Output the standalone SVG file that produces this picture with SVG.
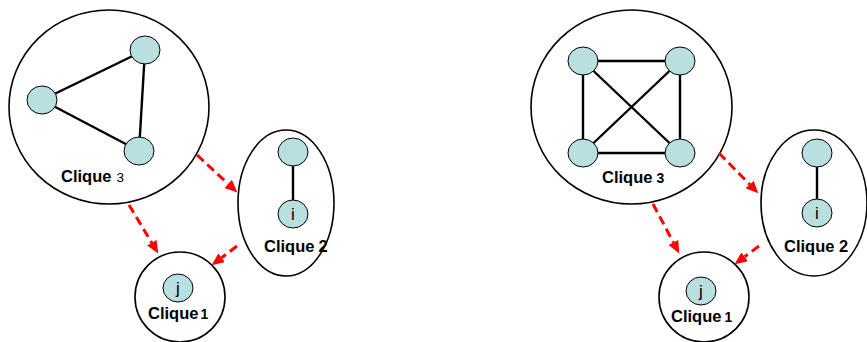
<svg xmlns="http://www.w3.org/2000/svg" width="867" height="342" viewBox="0 0 867 342">
  <defs>
    <marker id="arrowhead" markerUnits="userSpaceOnUse" markerWidth="13" markerHeight="12" refX="0" refY="5.5" orient="auto">
      <path d="M0,0 L12.5,5.5 L0,11 z" fill="#FF0000"/>
    </marker>
    <style>
      .clique { fill: #FFFFFF; stroke: #000000; stroke-width: 1.6; }
      .vertex { fill: #B9DFE0; stroke: #000000; stroke-width: 1; }
      .edge { stroke: #000000; stroke-width: 2.4; fill: none; }
      .dep { stroke: #FF0000; stroke-width: 3; stroke-dasharray: 9 5; fill: none; marker-end: url(#arrowhead); }
      .title { font-family: "Liberation Sans", Arial, sans-serif; font-weight: bold; font-size: 16.5px; fill: #000000; }
      .vlabel { font-family: "Liberation Sans", Arial, sans-serif; font-size: 17px; fill: #000000; text-anchor: middle; }
    </style>
  </defs>

  <!-- Left: 3-vertex clique -->
  <g id="left-clique3">
    <ellipse class="clique" cx="109" cy="107" rx="100" ry="97"/>
    <line class="edge" x1="145" y1="50" x2="42" y2="100"/>
    <line class="edge" x1="145" y1="50" x2="139" y2="151"/>
    <line class="edge" x1="42" y1="100" x2="139" y2="151"/>
    <ellipse class="vertex" cx="145" cy="50" rx="15" ry="14"/>
    <ellipse class="vertex" cx="42" cy="100" rx="15" ry="14"/>
    <ellipse class="vertex" cx="139" cy="151" rx="15" ry="14"/>
    <text class="title" x="61" y="182">Clique<tspan dx="5" font-size="13.5" font-weight="normal">3</tspan></text>
  </g>

  <g id="left-clique2">
    <ellipse class="clique" cx="286" cy="203" rx="48" ry="73"/>
    <line class="edge" x1="293" y1="152" x2="293" y2="214"/>
    <ellipse class="vertex" cx="293" cy="152" rx="15" ry="14"/>
    <ellipse class="vertex" cx="293" cy="214" rx="15" ry="14"/>
    <text class="vlabel" x="293" y="220">i</text>
    <text class="title" x="264" y="252" font-size="15">Clique<tspan dx="4">2</tspan></text>
  </g>

  <g id="left-clique1">
    <circle class="clique" cx="180" cy="297" r="45"/>
    <ellipse class="vertex" cx="178" cy="288" rx="15" ry="14"/>
    <text class="vlabel" x="178" y="294">j</text>
    <text class="title" x="148" y="319">Clique<tspan dx="2" font-size="14">1</tspan></text>
  </g>

  <!-- Right: 4-vertex clique -->
  <g id="right-clique3">
    <ellipse class="clique" cx="631.5" cy="107" rx="100.5" ry="97"/>
    <line class="edge" x1="583" y1="61" x2="680" y2="61"/>
    <line class="edge" x1="583" y1="153" x2="680" y2="153"/>
    <line class="edge" x1="583" y1="61" x2="583" y2="153"/>
    <line class="edge" x1="680" y1="61" x2="680" y2="153"/>
    <line class="edge" x1="583" y1="61" x2="680" y2="153"/>
    <line class="edge" x1="680" y1="61" x2="583" y2="153"/>
    <ellipse class="vertex" cx="583" cy="61" rx="15" ry="14"/>
    <ellipse class="vertex" cx="680" cy="61" rx="15" ry="14"/>
    <ellipse class="vertex" cx="583" cy="153" rx="15" ry="14"/>
    <ellipse class="vertex" cx="680" cy="153" rx="15" ry="14"/>
    <text class="title" x="602" y="183">Clique<tspan dx="4" font-size="14">3</tspan></text>
  </g>

  <g id="right-clique2">
    <ellipse class="clique" cx="814" cy="203" rx="53" ry="73"/>
    <line class="edge" x1="817" y1="153" x2="817" y2="213"/>
    <ellipse class="vertex" cx="817" cy="153" rx="15" ry="14"/>
    <ellipse class="vertex" cx="817" cy="213" rx="15" ry="14"/>
    <text class="vlabel" x="817" y="219">i</text>
    <text class="title" x="784" y="252">Clique 2</text>
  </g>

  <g id="right-clique1">
    <circle class="clique" cx="704" cy="297" r="45"/>
    <ellipse class="vertex" cx="701" cy="291" rx="15" ry="14"/>
    <text class="vlabel" x="701" y="297">j</text>
    <text class="title" x="671" y="322">Clique<tspan dx="3" font-size="14">1</tspan></text>
  </g>

  <!-- Dependency connectors -->
  <g id="connectors">
    <line class="dep" x1="197" y1="155" x2="228.2" y2="183.9"/>
    <line class="dep" x1="129" y1="205" x2="151.8" y2="242.7"/>
    <line class="dep" x1="237" y1="246" x2="221.6" y2="257.7"/>
    <line class="dep" x1="719" y1="153" x2="749.6" y2="184.4"/>
    <line class="dep" x1="653" y1="204" x2="673.4" y2="242.4"/>
    <line class="dep" x1="759" y1="246" x2="744.6" y2="256.8"/>
  </g>
</svg>
